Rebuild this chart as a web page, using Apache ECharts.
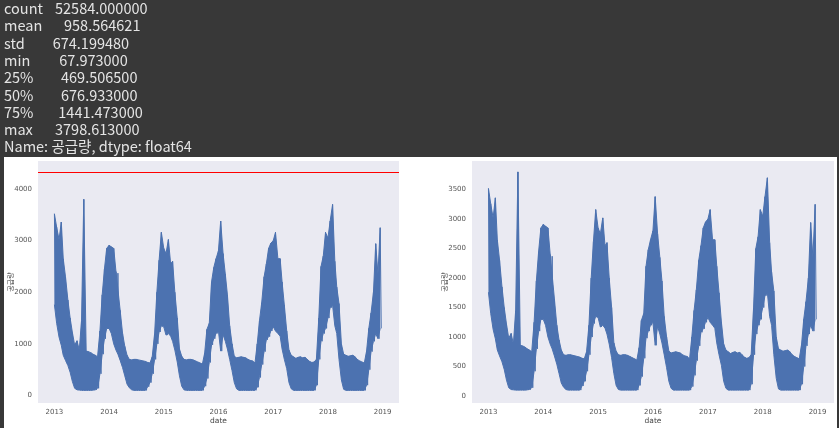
<!DOCTYPE html>
<html><head><meta charset="utf-8">
<script src="https://cdn.jsdelivr.net/npm/echarts@6/dist/echarts.min.js"></script>
<style>html,body{margin:0;padding:0;background:#383838;}#c{width:839px;height:428px;}</style>
</head><body><div id="c"></div>
<script>
// pandas describe() output shown above the charts
const statLabels = ['count', 'mean', 'std', 'min', '25%', '50%', '75%', 'max'];
const statValues = ['52584.000000', '958.564621', '674.199480', '67.973000', '469.506500', '676.933000', '1441.473000', '3798.613000'];
const statValueX = [55, 64, 52.7, 59.3, 61, 61, 58.3, 55];
const nameLine = 'Name: 공급량, dtype: float64';

// hourly series summarised per half month (1st / 16th): upper and lower envelope
const years = [2013, 2014, 2015, 2016, 2017, 2018];
const upper = [
  3520, 3260, 3020, 3360, 2650, 2300, 1850, 1500, 1220, 980, 1060, 880, 1450, 3800, 860, 850, 830, 800, 780, 750, 1250, 1950, 2450, 2850,
  2910, 2880, 2850, 2400, 2370, 1650, 1200, 950, 780, 700, 690, 700, 700, 690, 680, 670, 660, 640, 630, 750, 1200, 2000, 2620, 3160,
  2850, 2750, 3020, 2550, 2600, 2000, 1500, 900, 760, 700, 690, 700, 700, 690, 670, 650, 630, 610, 820, 1280, 1400, 2200, 2480, 2650,
  2800, 3380, 2750, 2350, 1950, 1350, 1000, 760, 730, 740, 750, 740, 730, 700, 680, 670, 630, 1000, 1450, 1800, 2300, 2550, 2850, 2950,
  3000, 3160, 2650, 2650, 2200, 1750, 1250, 880, 780, 750, 720, 740, 750, 730, 740, 700, 660, 640, 650, 700, 1500, 2500, 2700, 3160,
  3050, 3380, 3700, 2600, 2100, 1780, 1000, 800, 780, 760, 770, 780, 750, 700, 670, 650, 630, 860, 1300, 1600, 2000, 2940, 2350, 3250
];
const lower = [
  1760, 1400, 1130, 970, 780, 680, 580, 450, 270, 140, 110, 105, 100, 100, 100, 100, 100, 105, 110, 140, 420, 800, 1100, 1300,
  1300, 1200, 1000, 880, 800, 680, 540, 380, 220, 150, 110, 100, 100, 100, 100, 100, 100, 170, 250, 420, 700, 1000, 1230, 1350,
  1330, 1170, 1200, 1150, 1050, 880, 650, 380, 180, 110, 100, 100, 100, 100, 100, 100, 100, 100, 180, 330, 640, 980, 1100, 1200,
  1250, 860, 1180, 1050, 900, 700, 480, 250, 130, 100, 100, 100, 100, 100, 100, 100, 100, 160, 350, 600, 850, 1080, 1140, 1250,
  1330, 1250, 1200, 1150, 900, 700, 520, 250, 130, 100, 100, 100, 100, 100, 100, 100, 100, 100, 100, 200, 700, 1050, 1200, 1300,
  1500, 1700, 1750, 1350, 1200, 700, 300, 120, 100, 100, 100, 100, 100, 100, 100, 100, 100, 200, 500, 850, 1050, 1200, 1100, 1300
];
const dataMin = 67.973, dataMax = 3798.613;
const threshold = 4329.56; // mean + 5 * std (red line)

// dates of each half-month sample
const dates = [];
for (let k = 0; k < upper.length; k++) {
  const y = years[0] + Math.floor(k / 24), m = Math.floor((k % 24) / 2), h = k % 2;
  dates.push(new Date(y, m, h ? 16 : 1).getTime());
}
const lowPts = dates.map((d, k) => [d, lower[k]]);
const spanPts = dates.map((d, k) => [d, upper[k] - lower[k]]);
const zigPts = [];
dates.forEach((d, k) => { zigPts.push([d, upper[k]]); zigPts.push([d + 7 * 86400000, lower[k]]); });

const t0 = new Date(2013, 0, 1).getTime(), t1 = new Date(2018, 11, 31, 23).getTime();
const tpad = 0.05 * (t1 - t0);
const DAY = 86400000;
function yr(v) { const d = new Date(v); return (d.getMonth() === 0 && d.getDate() === 1) ? String(d.getFullYear()) : ''; }
function xAx(i) {
  return { type: 'time', gridIndex: i, min: t0 - tpad, max: t1 + tpad, splitNumber: 6, minInterval: 365 * DAY, maxInterval: 366 * DAY,
    axisLine: { show: false }, axisTick: { show: false }, splitLine: { show: false },
    axisLabel: { color: '#555', fontSize: 7, margin: 6, formatter: yr, showMinLabel: false, showMaxLabel: false, fontFamily: 'DejaVu Sans' },
    name: 'date', nameLocation: 'middle', nameGap: 14, nameMoveOverlap: false, nameTextStyle: { color: '#444', fontSize: 7.5, fontFamily: 'DejaVu Sans' } };
}
function yAx(i, lo, hi, step) {
  const p = 0.05 * (hi - lo);
  return { type: 'value', gridIndex: i, min: lo - p, max: hi + p, splitNumber: 6, minInterval: step, maxInterval: step,
    axisLine: { show: false }, axisTick: { show: false }, splitLine: { show: false },
    axisLabel: { color: '#555', fontSize: 7, margin: 6, showMinLabel: false, showMaxLabel: false, fontFamily: 'DejaVu Sans', formatter: v => String(Math.round(v)) },
    name: '공급량', nameLocation: 'middle', nameRotate: 90, nameGap: 24, nameMoveOverlap: false, nameTextStyle: { color: '#444', fontSize: 7, fontFamily: 'Noto Sans CJK KR' } };
}
const graphic = [
  { type: 'rect', shape: { x: 4, y: 157, width: 833, height: 271 }, style: { fill: '#ffffff' }, z: -10 }
];
const txtFont = '14.5px "Noto Sans CJK KR"';
statLabels.forEach((s, i) => {
  graphic.push({ type: 'text', x: 4, y: 8.5 + 17.3 * i, style: { text: s, fill: '#e4e4e4', font: txtFont, verticalAlign: 'middle', textVerticalAlign: 'middle' } });
  graphic.push({ type: 'text', x: statValueX[i], y: 8.5 + 17.3 * i, style: { text: statValues[i], fill: '#e4e4e4', font: txtFont, verticalAlign: 'middle', textVerticalAlign: 'middle' } });
});
graphic.push({ type: 'text', x: 4, y: 8.5 + 17.3 * 8, style: { text: nameLine, fill: '#e4e4e4', font: txtFont, verticalAlign: 'middle', textVerticalAlign: 'middle' } });

const BLUE = '#4C72B0';
function bandSeries(i) {
  return [
    { type: 'line', xAxisIndex: i, yAxisIndex: i, data: lowPts, stack: 'band' + i, showSymbol: false, lineStyle: { color: BLUE, width: 1 }, sampling: 'none' },
    { type: 'line', xAxisIndex: i, yAxisIndex: i, data: spanPts, stack: 'band' + i, showSymbol: false, lineStyle: { color: BLUE, width: 1 },
      areaStyle: { color: BLUE, opacity: 1 }, sampling: 'none' },
    { type: 'line', xAxisIndex: i, yAxisIndex: i, data: zigPts, showSymbol: false, lineStyle: { color: BLUE, width: 1 }, sampling: 'none' }
  ];
}
const s = bandSeries(0).concat(bandSeries(1));
s[2].markLine = { silent: true, symbol: ['none', 'none'], label: { show: false }, lineStyle: { color: '#ff0000', width: 1, type: 'solid' }, data: [{ yAxis: threshold }] };

const gridBase = { show: true, backgroundColor: '#EAEAF2', borderWidth: 0, containLabel: false, outerBoundsMode: 'none' };
const chart = echarts.init(document.getElementById('c'), null, { renderer: 'canvas' });
chart.setOption({
  animation: false,
  backgroundColor: '#383838',
  graphic: graphic,
  grid: [
    Object.assign({ left: 38, top: 161, width: 361, height: 242 }, gridBase),
    Object.assign({ left: 472, top: 161, width: 362, height: 242 }, gridBase)
  ],
  xAxis: [xAx(0), xAx(1)],
  yAxis: [yAx(0, dataMin, threshold, 1000), yAx(1, dataMin, dataMax, 500)],
  series: s
});
</script></body></html>
